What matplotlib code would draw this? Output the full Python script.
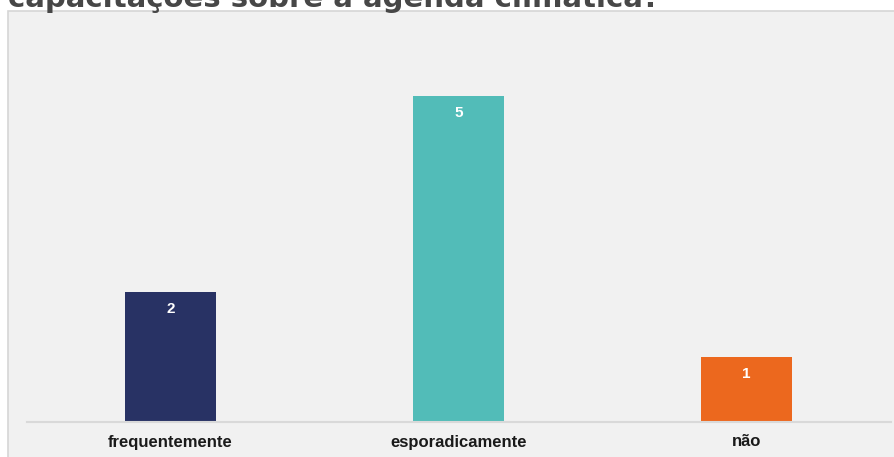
import matplotlib
matplotlib.use("Agg")
import matplotlib.pyplot as plt
from matplotlib.patches import Rectangle

categories = ["frequentemente", "esporadicamente", "não"]
values = [2, 5, 1]
colors = ["#283264", "#52bcb8", "#ec681e"]
title = "capacitações sobre a agenda climática?"

W, H = 894, 457
fig = plt.figure(figsize=(W / 100, H / 100), dpi=100)
fig.patch.set_facecolor("white")

# panel background
panel = Rectangle((8 / W, -0.01), 1.0, 1 - 11 / H + 0.01, transform=fig.transFigure,
                  facecolor="#f1f1f1", edgecolor="#d6d6d6", linewidth=1.2, zorder=-5)
fig.patches.append(panel)

# title (partially cut off at the top)
fig.text(8 / W, 1 - 7 / H, title, fontsize=21, fontweight="heavy", color="#474747",
         family="DejaVu Sans", va="baseline", ha="left")

unit = 65.2
ymax = 6
ax = fig.add_axes([26.5 / W, 1 - 422 / H, 864 / W, ymax * unit / H])
ax.set_facecolor("none")
ax.set_zorder(2)
x = range(len(categories))
bars = ax.bar(x, values, width=0.316, color=colors, zorder=2)
ax.set_xlim(-0.5, 2.5)
ax.set_ylim(0, ymax)
for s in ["top", "right", "left"]:
    ax.spines[s].set_visible(False)
ax.spines["bottom"].set_color("#d9d9d9")
ax.spines["bottom"].set_linewidth(1.5)
ax.set_yticks([])
ax.set_xticks(list(x))
ax.set_xticklabels(categories, fontsize=12, fontweight="bold", color="#1a1a1a",
                   family="Liberation Sans")
ax.tick_params(axis="x", length=0, pad=9)

for b, v in zip(bars, values):
    ax.annotate(str(v), (b.get_x() + b.get_width() / 2, v), xytext=(0, -12.5),
                textcoords="offset points", ha="center", va="center",
                color="white", fontweight="bold", fontsize=11, family="Liberation Sans")

fig.savefig("out.png", dpi=100)
